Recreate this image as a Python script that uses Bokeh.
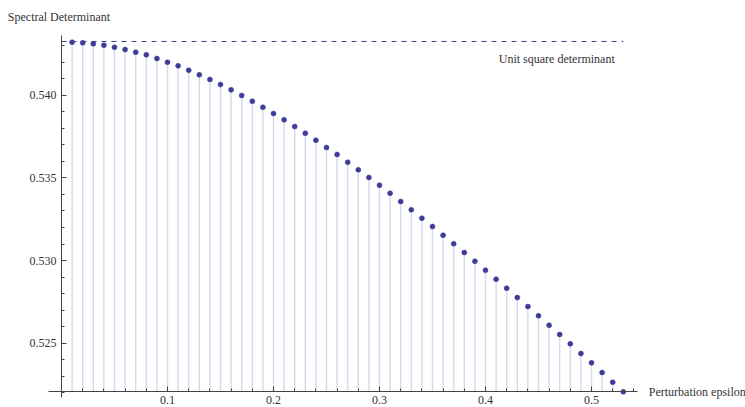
from bokeh.plotting import figure
from bokeh.models import Range1d, FixedTicker, PrintfTickFormatter, Label
from bokeh.embed import file_html
from bokeh.resources import INLINE

# ---- data ----
eps = [0.01, 0.02, 0.03, 0.04, 0.05, 0.06, 0.07, 0.08, 0.09, 0.10,
       0.11, 0.12, 0.13, 0.14, 0.15, 0.16, 0.17, 0.18, 0.19, 0.20,
       0.21, 0.22, 0.23, 0.24, 0.25, 0.26, 0.27, 0.28, 0.29, 0.30,
       0.31, 0.32, 0.33, 0.34, 0.35, 0.36, 0.37, 0.38, 0.39, 0.40,
       0.41, 0.42, 0.43, 0.44, 0.45, 0.46, 0.47, 0.48, 0.49, 0.50,
       0.51, 0.52, 0.53]
det = [0.543206, 0.543169, 0.543109, 0.543024, 0.542903, 0.542764, 0.542601, 0.542444, 0.542220, 0.541996,
       0.541778, 0.541512, 0.541234, 0.540950, 0.540647, 0.540327, 0.539982, 0.539637, 0.539274, 0.538893,
       0.538512, 0.538107, 0.537702, 0.537278, 0.536837, 0.536413, 0.535948, 0.535488, 0.535022, 0.534556,
       0.534072, 0.533570, 0.533068, 0.532560, 0.532058, 0.531532, 0.531012, 0.530486, 0.529959, 0.529415,
       0.528871, 0.528326, 0.527764, 0.527220, 0.526657, 0.526089, 0.525526, 0.524964, 0.524377, 0.523814,
       0.523227, 0.522641, 0.522060]
unit_square_det = 0.54325

x_major = [0.1, 0.2, 0.3, 0.4, 0.5]
x_minor = [0.02, 0.04, 0.06, 0.08, 0.12, 0.14, 0.16, 0.18, 0.22, 0.24, 0.26, 0.28,
           0.32, 0.34, 0.36, 0.38, 0.42, 0.44, 0.46, 0.48, 0.52, 0.54]
y_major = [0.525, 0.530, 0.535, 0.540]
y_minor = [0.522, 0.523, 0.524, 0.526, 0.527, 0.528, 0.529, 0.531, 0.532, 0.533,
           0.534, 0.536, 0.537, 0.538, 0.539, 0.541, 0.542, 0.543]

x_title = "Perturbation epsilon"
y_title = "Spectral Determinant"
ref_label = "Unit square determinant"

FONT = "Liberation Serif"
FS = "12px"
PT_COLOR = "#3d3d99"
STEM_COLOR = "#d8d8eb"
AX_COLOR = "#444444"
TXT = "#333333"

axis_y = min(det)
x_axis_bounds = (-0.012264, 0.5431)
y_axis_bounds = (0.521733, 0.543611)

p = figure(width=745, height=407, output_backend="svg", toolbar_location=None,
           x_range=Range1d(-0.057547, 0.645283), y_range=Range1d(0.521111, 0.545728),
           min_border=0, min_border_left=0, min_border_right=0,
           min_border_top=0, min_border_bottom=0)
p.outline_line_color = None
p.xgrid.visible = False
p.ygrid.visible = False
p.background_fill_color = "white"
p.border_fill_color = "white"

# stems (filling to axis)
p.segment(x0=eps, y0=[axis_y] * len(eps), x1=eps, y1=det, line_color=STEM_COLOR, line_width=1.4)
# reference dashed line
p.line(x=[0, eps[-1]], y=[unit_square_det, unit_square_det], line_color=PT_COLOR,
       line_width=1, line_dash="5 5")
# points
p.scatter(x=eps, y=det, size=5, fill_color=PT_COLOR, line_color=PT_COLOR, line_width=0.5)

for ax in (p.xaxis[0], p.yaxis[0]):
    ax.axis_line_color = AX_COLOR
    ax.axis_line_width = 1
    ax.major_tick_line_color = AX_COLOR
    ax.minor_tick_line_color = AX_COLOR
    ax.major_tick_in = 5
    ax.major_tick_out = 0
    ax.minor_tick_in = 3
    ax.minor_tick_out = 0
    ax.major_label_text_font = FONT
    ax.major_label_text_font_size = FS
    ax.major_label_text_color = TXT
p.xaxis.major_label_standoff = 4
p.yaxis.major_label_standoff = 5

p.xaxis.fixed_location = axis_y
p.yaxis.fixed_location = 0
p.xaxis.bounds = x_axis_bounds
p.yaxis.bounds = y_axis_bounds
p.xaxis.ticker = FixedTicker(ticks=x_major, minor_ticks=x_minor)
p.yaxis.ticker = FixedTicker(ticks=y_major, minor_ticks=y_minor)
p.xaxis.formatter = PrintfTickFormatter(format="%.1f")
p.yaxis.formatter = PrintfTickFormatter(format="%.3f")

p.add_layout(Label(x=0, y=y_axis_bounds[1], x_offset=-53.7, y_offset=18.3, text=y_title,
                   text_font=FONT, text_font_size=FS, text_color=TXT,
                   text_baseline="middle", text_align="left"))
p.add_layout(Label(x=x_axis_bounds[1], y=axis_y, x_offset=11.6, y_offset=-0.5, text=x_title,
                   text_font=FONT, text_font_size=FS, text_color=TXT,
                   text_baseline="middle", text_align="left"))
p.add_layout(Label(x=0.4125, y=0.54216, text=ref_label,
                   text_font=FONT, text_font_size=FS, text_color=TXT,
                   text_baseline="middle", text_align="left"))

open("out.html", "w").write(file_html(p, INLINE))
